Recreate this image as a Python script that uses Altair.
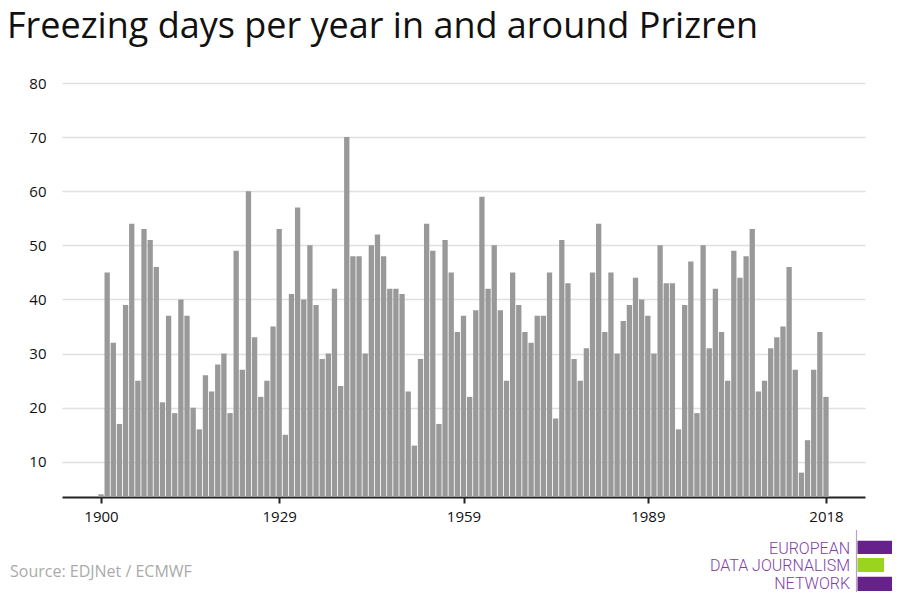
import altair as alt
import pandas as pd

years = list(range(1900, 2019))
freezing_days = [
    4, 45, 32, 17, 39, 54, 25, 53, 51, 46,
    21, 37, 19, 40, 37, 20, 16, 26, 23, 28,
    30, 19, 49, 27, 60, 33, 22, 25, 35, 53,
    15, 41, 57, 40, 50, 39, 29, 30, 42, 24,
    70, 48, 48, 30, 50, 52, 48, 42, 42, 41,
    23, 13, 29, 54, 49, 17, 51, 45, 34, 37,
    22, 38, 59, 42, 50, 38, 25, 45, 39, 34,
    32, 37, 37, 45, 18, 51, 43, 29, 25, 31,
    45, 54, 34, 45, 30, 36, 39, 44, 40, 37,
    30, 50, 43, 43, 16, 39, 47, 19, 50, 31,
    42, 34, 25, 49, 44, 48, 53, 23, 25, 31,
    33, 35, 46, 27, 8, 14, 27, 34, 22,
]
tick_years = [1900, 1929, 1959, 1989, 2018]
y_ticks = [10, 20, 30, 40, 50, 60, 70, 80]

title_text = "Freezing days per year in and around Prizren"
source_text = "Source: EDJNet / ECMWF"
logo_lines = ["EUROPEAN", "DATA JOURNALISM", "NETWORK"]

df = pd.DataFrame({"year": years, "days": freezing_days})

FONT = "Open Sans"
W, H = 803, 414

bars = alt.Chart(df).mark_bar(color="#999999", width=5.3, clip=True).encode(
    x=alt.X(
        "year:Q",
        scale=alt.Scale(domain=[1893.65, 2024.35], nice=False, zero=False, padding=0),
        axis=alt.Axis(
            values=tick_years, format="d", title=None, grid=False,
            domainColor="#222222", domainWidth=2, tickColor="#222222",
            tickWidth=2, tickSize=6, labelFontSize=15, labelColor="#111111",
            labelFont=FONT, labelPadding=6,
        ),
    ),
    y=alt.Y(
        "days:Q",
        scale=alt.Scale(domain=[3.5, 80], nice=False, zero=False),
        axis=alt.Axis(
            values=y_ticks, title=None, domain=False, ticks=False,
            gridColor="#e0e0e0", gridWidth=1.5, labelFontSize=15,
            labelColor="#111111", labelFont=FONT, labelPadding=16,
        ),
    ),
)

source = alt.Chart(pd.DataFrame({"t": [source_text]})).mark_text(
    align="left", baseline="alphabetic", font=FONT, fontSize=16, color="#aaaaaa"
).encode(text="t:N", x=alt.value(-52), y=alt.value(493.5))

logo_df = pd.DataFrame({"t": logo_lines, "yy": [470.5, 488.3, 505.5]})
logo_text = alt.Chart(logo_df).mark_text(
    align="right", baseline="alphabetic", font="Roboto", fontWeight=300,
    fontSize=16, color="#7f3fa6"
).encode(text="t:N", x=alt.value(788), y=alt.Y("yy:Q", scale=None))

vline = alt.Chart(pd.DataFrame({"a": [0]})).mark_rule(
    color="#b9a0c9", strokeWidth=1.2
).encode(x=alt.value(794.5), y=alt.value(447), y2=alt.value(517))

bar_top = alt.Chart(pd.DataFrame({"a": [0]})).mark_rect(color="#66228a").encode(
    x=alt.value(795.5), x2=alt.value(840), y=alt.value(457.7), y2=alt.value(471)
)
bar_mid = alt.Chart(pd.DataFrame({"a": [0]})).mark_rect(color="#9ad41e").encode(
    x=alt.value(795.5), x2=alt.value(822), y=alt.value(475), y2=alt.value(489)
)
bar_bot = alt.Chart(pd.DataFrame({"a": [0]})).mark_rect(color="#66228a").encode(
    x=alt.value(795.5), x2=alt.value(840), y=alt.value(493.7), y2=alt.value(508)
)

chart = alt.layer(bars, source, logo_text, vline, bar_top, bar_mid, bar_bot).properties(
    width=W, height=H,
    title=alt.TitleParams(
        title_text, anchor="start", font=FONT, fontSize=36, fontWeight="normal",
        color="#111111", dx=-3, offset=30,
    ),
    autosize=alt.AutoSizeParams(type="none"),
    padding={"left": 54, "top": 75, "right": 27, "bottom": 95},
).configure_view(stroke=None)

chart.save("out.html", embed_options={"renderer": "svg", "actions": False})
